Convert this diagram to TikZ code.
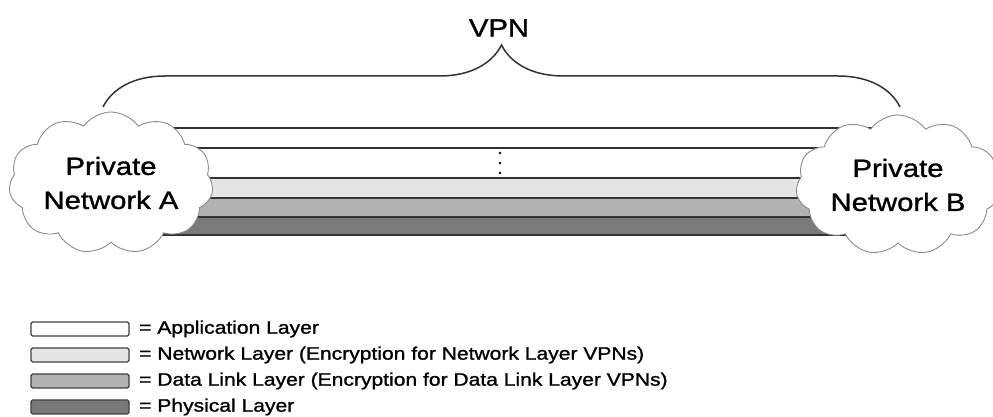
\documentclass[tikz,border=0pt]{standalone}
\usepackage{fontspec}
\setmainfont{Liberation Sans}[FakeStretch=1.17,FakeBold=1.2]
\usetikzlibrary{shapes.symbols,decorations.pathreplacing,positioning}

\begin{document}
\begin{tikzpicture}[x=1pt,y=1pt,
    net/.style={cloud,cloud puffs=11,cloud puff arc=110,cloud ignores aspect,
      draw=black!45,fill=white,line width=0.9pt,align=center,
      font=\fontsize{25}{34}\selectfont},
    band/.style={draw=black!80,line width=1.7pt},
    key/.style={draw=black!75,line width=1.4pt,rounded corners=1.5pt,
      minimum width=98pt,minimum height=14pt,inner sep=0pt},
    keytext/.style={anchor=west,inner sep=0pt,font=\fontsize{18}{20}\selectfont}]
  \useasboundingbox (0,0) rectangle (993,417);

  % layers of the tunnel
  \draw[band,fill=white] (100,269) rectangle (895,289);
  \draw[band,fill=white] (100,239) rectangle (895,269);
  \draw[band,fill=black!10] (100,219) rectangle (895,239);
  \draw[band,fill=black!30] (100,200) rectangle (895,219);
  \draw[band,fill=black!52] (100,182) rectangle (895,200);
  \foreach \y in {264,254,244}
    \fill (500,\y) circle (1.4);

  \node[net,minimum width=204pt,minimum height=142pt] (netA) at (111,234) {Private\\Network A};
  \node[net,minimum width=196pt,minimum height=140pt] (netB) at (898,232) {Private\\Network B};

  \coordinate (bl) at (103,310);
  \coordinate (br) at (900,310);
  \draw[black!80,line width=1.5pt,decorate,decoration={brace,amplitude=62pt}] (bl) -- (br);
  \node[font=\fontsize{25}{30}\selectfont] (vpn) at (499,389) {VPN};

  % legend
  \node[key,fill=white] (kApp) at (80,88) {};
  \node[key,fill=black!10] (kNet) at (80,62) {};
  \node[key,fill=black!30] (kLink) at (80,36) {};
  \node[key,fill=black!52] (kPhy) at (80,10) {};
  \node[keytext] (tApp) at (139,88) {= Application Layer};
  \node[keytext] (tNet) at (139,62) {= Network Layer (Encryption for Network Layer VPNs)};
  \node[keytext] (tLink) at (139,36) {= Data Link Layer (Encryption for Data Link Layer VPNs)};
  \node[keytext] (tPhy) at (139,10) {= Physical Layer};
\end{tikzpicture}
\end{document}
